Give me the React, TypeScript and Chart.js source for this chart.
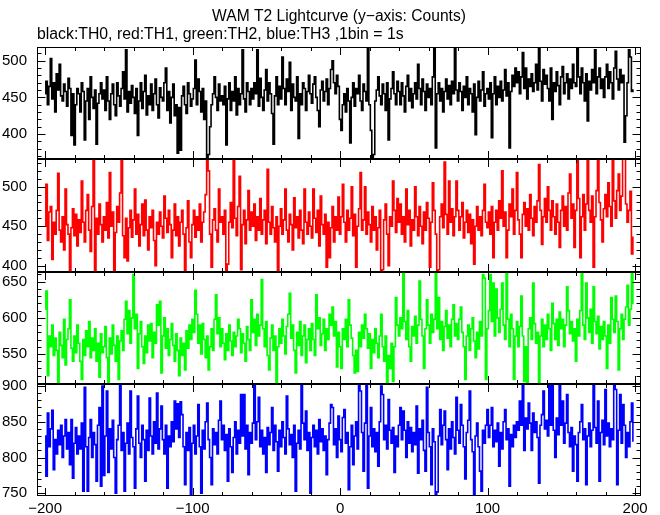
import { useEffect, useRef } from "react";
import { Chart, registerables } from "chart.js";

Chart.register(...registerables);

const TITLE = "WAM T2 Lightcurve (y\u2212axis: Counts)";
const SUBTITLE = "black:TH0, red:TH1, green:TH2, blue:TH3 ,1bin = 1s";

// time axis: first bin start (s) and bin width (1bin = 1s)
const TIME_START = -200;
const BIN_SECONDS = 1;

const X_RANGE = [-205.5, 204];
const X_TICK_VALUES = [-200, -100, 0, 100, 200];
const X_TICK_STEP = 100;
const X_MINOR_STEP = 20;

const TH0_COUNTS = [
  455, 472, 440, 465, 503, 448, 470, 430, 482, 460, 495, 452, 445, 468, 458, 438, 476, 462, 398, 455,
  385, 440, 462, 455, 430, 470, 458, 392, 445, 462, 420, 478, 450, 435, 460, 386, 442, 455, 470, 448,
  460, 432, 478, 445, 420, 455, 468, 440, 425, 470, 452, 438, 462, 485, 448, 515, 430, 458, 442, 466,
  450, 428, 462, 398, 445, 470, 435, 458, 480, 426, 452, 440, 468, 432, 455, 475, 440, 422, 463, 450,
  445, 470, 490, 432, 458, 415, 450, 468, 425, 440, 374, 436, 378, 452, 465, 440, 428, 470, 455, 438,
  448, 462, 501, 440, 475, 458, 430, 462, 420, 445, 368, 372, 410, 440, 455, 478, 450, 432, 468, 445,
  452, 440, 465, 385, 448, 470, 432, 458, 445, 478, 426, 462, 440, 455, 515, 448, 430, 470, 458, 440,
  462, 448, 470, 455, 515, 438, 476, 450, 432, 460, 488, 445, 470, 455, 428, 386, 452, 478, 440, 465,
  448, 505, 462, 440, 475, 458, 498, 432, 468, 450, 445, 478, 394, 455, 440, 470, 462, 432, 458, 480,
  455, 442, 468, 478, 450, 432, 410, 460, 472, 445, 458, 475, 440, 462, 488, 500, 470, 455, 480, 465,
  420, 405, 440, 455, 430, 462, 445, 388, 450, 470, 438, 462, 455, 480, 445, 432, 468, 458, 445, 517,
  440, 405, 368, 372, 445, 460, 478, 452, 440, 468, 455, 432, 470, 392, 448, 462, 485, 455, 440, 472,
  458, 440, 470, 452, 430, 465, 480, 445, 462, 436, 455, 470, 448, 495, 462, 440, 475, 458, 432, 468,
  450, 462, 440, 478, 517, 381, 455, 470, 445, 462, 430, 458, 475, 448, 466, 440, 472, 455, 517, 460,
  445, 470, 458, 432, 465, 450, 478, 440, 462, 455, 430, 468, 399, 450, 472, 445, 460, 485, 438, 455,
  462, 448, 470, 395, 455, 478, 440, 465, 450, 472, 445, 460, 488, 452, 470, 381, 458, 480, 465, 490,
  470, 485, 455, 478, 511, 462, 490, 448, 475, 465, 482, 458, 470, 495, 460, 518, 472, 445, 488, 468,
  480, 462, 445, 490, 420, 470, 458, 485, 466, 440, 478, 492, 455, 470, 482, 448, 475, 462, 495, 470,
  465, 518, 478, 455, 490, 470, 445, 482, 418, 472, 460, 488, 470, 515, 455, 478, 490, 462, 475, 450,
  478, 495, 462, 485, 470, 448, 490, 513, 475, 460, 488, 470, 480, 389, 425, 470, 515, 505, 458, 460,
];

const TH1_COUNTS = [
  450, 503, 432, 468, 475, 408, 455, 440, 470, 517, 445, 430, 462, 420, 497, 452, 440, 394, 448, 472,
  438, 465, 425, 458, 442, 507, 455, 430, 470, 490, 445, 418, 475, 545, 388, 460, 440, 478, 452, 430,
  462, 445, 480, 435, 518, 450, 468, 393, 442, 475, 455, 492, 545, 438, 410, 460, 406, 448, 470, 436,
  458, 497, 440, 465, 425, 452, 478, 438, 483, 445, 420, 462, 448, 470, 432, 400, 455, 440, 468, 450,
  435, 488, 460, 442, 470, 452, 410, 445, 478, 438, 462, 425, 455, 470, 440, 393, 448, 482, 430, 410,
  452, 470, 436, 462, 445, 478, 430, 455, 468, 490, 545, 520, 440, 398, 458, 472, 445, 430, 497, 455,
  462, 440, 470, 393, 402, 455, 480, 448, 533, 460, 438, 475, 513, 395, 452, 470, 428, 458, 495, 445,
  468, 450, 478, 432, 462, 445, 485, 440, 458, 470, 428, 522, 455, 440, 475, 448, 430, 462, 393, 450,
  472, 440, 458, 497, 445, 430, 465, 452, 420, 486, 448, 462, 435, 470, 445, 428, 497, 455, 440, 468,
  450, 435, 497, 460, 442, 470, 425, 488, 452, 440, 465, 398, 455, 410, 448, 475, 430, 462, 445, 487,
  440, 462, 503, 455, 430, 470, 445, 460, 500, 438, 465, 398, 450, 472, 518, 445, 458, 500, 440, 468,
  452, 430, 475, 445, 462, 420, 448, 470, 393, 395, 458, 478, 440, 400, 462, 450, 507, 470, 442, 485,
  455, 478, 440, 462, 430, 497, 452, 470, 425, 458, 445, 500, 462, 438, 475, 450, 428, 468, 445, 480,
  460, 398, 455, 505, 470, 440, 393, 395, 462, 478, 448, 531, 465, 440, 507, 455, 472, 438, 462, 507,
  470, 445, 462, 480, 435, 455, 470, 442, 465, 428, 458, 402, 450, 475, 445, 462, 438, 470, 503, 455,
  448, 468, 440, 475, 410, 455, 470, 445, 482, 460, 520, 450, 468, 410, 445, 478, 462, 497, 440, 470,
  518, 458, 440, 410, 465, 480, 450, 472, 445, 490, 460, 438, 475, 455, 482, 528, 470, 427, 462, 485,
  455, 500, 470, 445, 482, 462, 440, 478, 455, 423, 470, 488, 450, 475, 445, 492, 516, 460, 478, 423,
  470, 545, 485, 410, 462, 490, 445, 478, 545, 470, 455, 488, 398, 462, 495, 545, 480, 458, 430, 472,
  490, 462, 505, 475, 450, 533, 482, 460, 495, 516, 470, 488, 545, 540, 478, 455, 470, 494, 415, 436,
];

const TH2_COUNTS = [
  612, 637, 520, 575, 560, 590, 548, 572, 555, 510, 580, 562, 545, 598, 535, 570, 585, 625, 558, 540,
  575, 552, 590, 565, 540, 515, 570, 548, 582, 560, 595, 545, 572, 555, 585, 540, 565, 518, 578, 552,
  560, 588, 545, 510, 572, 550, 590, 562, 540, 575, 515, 568, 582, 555, 598, 623, 578, 610, 565, 600,
  660, 585, 605, 530, 578, 595, 560, 537, 575, 552, 590, 568, 592, 545, 580, 565, 618, 590, 623, 524,
  575, 600, 558, 585, 548, 570, 592, 562, 540, 578, 555, 520, 572, 548, 565, 528, 582, 558, 590, 570,
  598, 580, 638, 605, 565, 590, 550, 592, 570, 545, 575, 528, 560, 585, 555, 598, 632, 578, 600, 560,
  585, 565, 542, 578, 555, 590, 568, 548, 580, 560, 575, 598, 585, 552, 578, 565, 540, 588, 570, 555,
  625, 580, 598, 562, 605, 575, 590, 653, 585, 560, 595, 548, 528, 572, 590, 555, 575, 510, 560, 585,
  565, 598, 575, 550, 588, 605, 634, 572, 590, 555, 524, 580, 562, 595, 548, 575, 590, 538, 570, 585,
  555, 592, 570, 548, 632, 585, 600, 562, 578, 598, 555, 585, 570, 605, 590, 615, 575, 595, 532, 580,
  560, 530, 585, 570, 598, 560, 625, 590, 572, 548, 524, 555, 526, 580, 560, 590, 572, 605, 585, 558,
  578, 530, 570, 552, 585, 565, 545, 575, 605, 560, 540, 575, 510, 548, 530, 565, 512, 560, 628, 590,
  575, 600, 585, 662, 595, 570, 610, 560, 540, 588, 575, 602, 565, 590, 651, 598, 575, 530, 585, 625,
  590, 565, 605, 580, 598, 662, 585, 628, 570, 595, 555, 588, 610, 572, 590, 560, 598, 618, 575, 592,
  570, 598, 615, 580, 560, 515, 575, 590, 555, 585, 600, 568, 545, 580, 557, 595, 575, 660, 655, 515,
  585, 610, 660, 595, 648, 575, 640, 600, 580, 612, 648, 590, 570, 668, 598, 560, 605, 585, 515, 575,
  595, 560, 588, 630, 575, 512, 560, 510, 585, 600, 570, 648, 592, 565, 580, 510, 575, 598, 560, 590,
  570, 605, 585, 555, 620, 592, 570, 598, 562, 608, 585, 598, 560, 590, 643, 610, 578, 595, 568, 585,
  540, 598, 575, 610, 662, 590, 570, 648, 600, 580, 612, 565, 643, 595, 578, 602, 557, 588, 570, 595,
  575, 530, 590, 565, 628, 598, 580, 630, 595, 528, 585, 605, 570, 598, 615, 645, 590, 612, 668, 620,
];

const TH3_COUNTS = [
  830, 774, 862, 815, 840, 866, 783, 825, 805, 838, 818, 845, 800, 830, 853, 812, 835, 790, 853, 771,
  820, 842, 805, 830, 812, 848, 753, 898, 815, 753, 828, 853, 800, 835, 818, 767, 845, 870, 760, 900,
  775, 830, 893, 779, 840, 812, 852, 800, 750, 825, 845, 902, 810, 835, 753, 820, 848, 805, 893, 828,
  815, 757, 840, 886, 820, 800, 845, 825, 767, 838, 810, 883, 830, 805, 850, 820, 890, 812, 840, 872,
  825, 805, 845, 757, 830, 815, 850, 822, 879, 840, 875, 828, 878, 860, 815, 762, 835, 810, 842, 748,
  820, 845, 805, 830, 874, 815, 750, 838, 812, 850, 876, 825, 800, 762, 840, 818, 835, 805, 852, 879,
  825, 845, 810, 832, 767, 840, 815, 779, 828, 850, 805, 838, 820, 888, 830, 888, 812, 845, 776, 835,
  820, 848, 902, 825, 850, 884, 815, 838, 805, 828, 779, 842, 818, 835, 870, 810, 845, 822, 781, 838,
  815, 850, 828, 805, 886, 840, 818, 832, 800, 845, 753, 820, 838, 812, 902, 848, 825, 865, 810, 835,
  750, 828, 845, 815, 838, 805, 853, 822, 840, 810, 830, 776, 825, 848, 874, 870, 818, 840, 800, 858,
  825, 808, 856, 867, 820, 835, 755, 815, 845, 790, 830, 850, 812, 902, 893, 835, 781, 848, 905, 757,
  830, 870, 815, 840, 808, 835, 788, 850, 900, 888, 825, 845, 812, 881, 838, 820, 842, 779, 830, 815,
  845, 870, 825, 865, 838, 800, 850, 820, 842, 808, 835, 818, 872, 778, 840, 825, 852, 810, 781, 898,
  835, 815, 762, 840, 822, 748, 752, 830, 867, 818, 845, 865, 825, 783, 840, 812, 850, 828, 805, 884,
  838, 820, 874, 845, 815, 770, 835, 852, 893, 825, 808, 745, 830, 848, 815, 781, 753, 838, 820, 845,
  867, 828, 845, 870, 815, 838, 822, 848, 788, 835, 812, 850, 867, 825, 840, 760, 832, 815, 845, 828,
  850, 838, 879, 845, 902, 810, 855, 840, 876, 848, 810, 862, 835, 850, 828, 764, 845, 860, 893, 840,
  852, 830, 905, 845, 902, 838, 800, 855, 832, 905, 845, 879, 820, 848, 888, 835, 815, 842, 781, 830,
  818, 767, 835, 850, 874, 825, 840, 762, 830, 848, 815, 838, 905, 842, 820, 879, 767, 835, 852, 818,
  895, 830, 848, 815, 840, 825, 905, 895, 762, 838, 888, 820, 874, 845, 800, 835, 815, 850, 876, 823,
];

const SERIES_NAMES = ["TH0", "TH1", "TH2", "TH3"];
const SERIES_COUNTS = [TH0_COUNTS, TH1_COUNTS, TH2_COUNTS, TH3_COUNTS];
const SERIES_COLORS = ["#000000", "#ff0000", "#00ff00", "#0000ff"];
// y-axis ranges of the stacked panels (top to bottom) and their labelled ticks
const PANEL_MIN = [365.6, 392.7, 508.9, 746.2];
const PANEL_MAX = [518.7, 534.7, 664.1, 903.1];
const PANEL_TICKS = [
  [400, 450, 500],
  [400, 450, 500],
  [550, 600, 650],
  [750, 800, 850, 900],
];
const Y_TICK_STEP = 50;
const Y_MINOR_STEP = 10;

const PANEL_IDS = ["y0", "y1", "y2", "y3"];
const FONT_FAMILY = "'Liberation Sans', Arial, Helvetica, sans-serif";

function fmtX(v: number): string {
  return v < 0 ? "\u2212" + Math.abs(v) : String(v);
}

const framePlugin = {
  id: "panelFrames",
  afterDraw(chart: any) {
    const { ctx, chartArea } = chart;
    const xs = chart.scales.x;
    const L = Math.round(chartArea.left) + 0.5;
    const R = Math.round(chartArea.right) - 0.5;
    ctx.save();
    ctx.strokeStyle = "#000";
    ctx.lineWidth = 1;
    PANEL_IDS.forEach((id) => {
      const s = chart.scales[id];
      const T = Math.round(s.top);
      const B = Math.round(s.bottom);
      ctx.beginPath();
      const first = Math.ceil(s.min / Y_MINOR_STEP) * Y_MINOR_STEP;
      for (let v = first; v <= s.max; v += Y_MINOR_STEP) {
        const py = Math.round(s.getPixelForValue(v)) + 0.5;
        const len = v % Y_TICK_STEP === 0 ? 8 : 4;
        ctx.moveTo(L, py);
        ctx.lineTo(L + len, py);
        ctx.moveTo(R, py);
        ctx.lineTo(R - len, py);
      }
      for (let t = -200; t <= 200; t += X_MINOR_STEP) {
        const px = Math.round(xs.getPixelForValue(t)) + 0.5;
        const len = t % X_TICK_STEP === 0 ? 8 : 4;
        ctx.moveTo(px, T);
        ctx.lineTo(px, T + len);
        ctx.moveTo(px, B);
        ctx.lineTo(px, B - len);
      }
      ctx.stroke();
    });
    const top = Math.round(chartArea.top) + 0.5;
    const bottom = Math.round(chartArea.bottom) - 0.5;
    ctx.strokeRect(L, top, R - L, bottom - top);
    ctx.lineWidth = 2;
    ctx.beginPath();
    for (let i = 1; i < PANEL_IDS.length; i++) {
      const y = Math.round(chart.scales[PANEL_IDS[i]].top);
      ctx.moveTo(L, y);
      ctx.lineTo(R, y);
    }
    ctx.stroke();

    ctx.fillStyle = "#000";
    ctx.textBaseline = "middle";
    ctx.textAlign = "center";
    ctx.font = "15.6px " + FONT_FAMILY;
    ctx.fillText(TITLE, (chartArea.left + chartArea.right) / 2, 17);
    ctx.textAlign = "left";
    ctx.font = "15.8px " + FONT_FAMILY;
    ctx.fillText(SUBTITLE, chartArea.left, 35);
    ctx.restore();
  },
};

export default function App() {
  const ref = useRef<HTMLCanvasElement | null>(null);

  useEffect(() => {
    if (!ref.current) return;
    const datasets = SERIES_COUNTS.map((counts, k) => ({
      label: SERIES_NAMES[k],
      data: counts.map((c, i) => ({ x: TIME_START + i * BIN_SECONDS, y: c })),
      yAxisID: PANEL_IDS[k],
      borderColor: SERIES_COLORS[k],
      backgroundColor: SERIES_COLORS[k],
      borderWidth: 1.6,
      pointRadius: 0,
      tension: 0,
      stepped: "middle" as const,
      fill: false,
    }));

    const scales: any = {
      x: {
        type: "linear",
        position: "bottom",
        min: X_RANGE[0],
        max: X_RANGE[1],
        grid: { display: false, drawTicks: false },
        border: { display: false },
        afterBuildTicks: (s: any) => {
          s.ticks = X_TICK_VALUES.map((v) => ({ value: v }));
        },
        ticks: {
          autoSkip: false,
          maxRotation: 0,
          padding: 4,
          color: "#000",
          font: { size: 15, family: FONT_FAMILY },
          callback: (v: any) => fmtX(Number(v)),
        },
        afterFit: (s: any) => {
          s.height = 19;
        },
      },
    };
    PANEL_IDS.forEach((id, k) => {
      scales[id] = {
        type: "linear",
        position: "left",
        stack: "panels",
        stackWeight: 1,
        weight: PANEL_IDS.length - k,
        min: PANEL_MIN[k],
        max: PANEL_MAX[k],
        grid: { display: false, drawTicks: false },
        border: { display: false },
        afterBuildTicks: (s: any) => {
          s.ticks = PANEL_TICKS[k].map((v) => ({ value: v }));
        },
        ticks: {
          autoSkip: false,
          padding: 10,
          color: "#000",
          font: { size: 15, family: FONT_FAMILY },
          callback: (v: any) => String(v),
        },
        afterFit: (s: any) => {
          s.width = 37;
        },
      };
    });

    const chart = new Chart(ref.current, {
      type: "line",
      data: { datasets },
      options: {
        animation: false,
        responsive: false,
        devicePixelRatio: 1,
        layout: { padding: { top: 47, right: 19, bottom: 0, left: 0 } },
        plugins: {
          legend: { display: false },
          title: { display: false },
          tooltip: { enabled: false },
        },
        scales,
      },
      plugins: [framePlugin],
    });
    return () => chart.destroy();
  }, []);

  return (
    <div style={{ position: "absolute", left: 0, top: 0, width: 660, height: 515, background: "#fff" }}>
      <canvas ref={ref} width={660} height={515} />
    </div>
  );
}
